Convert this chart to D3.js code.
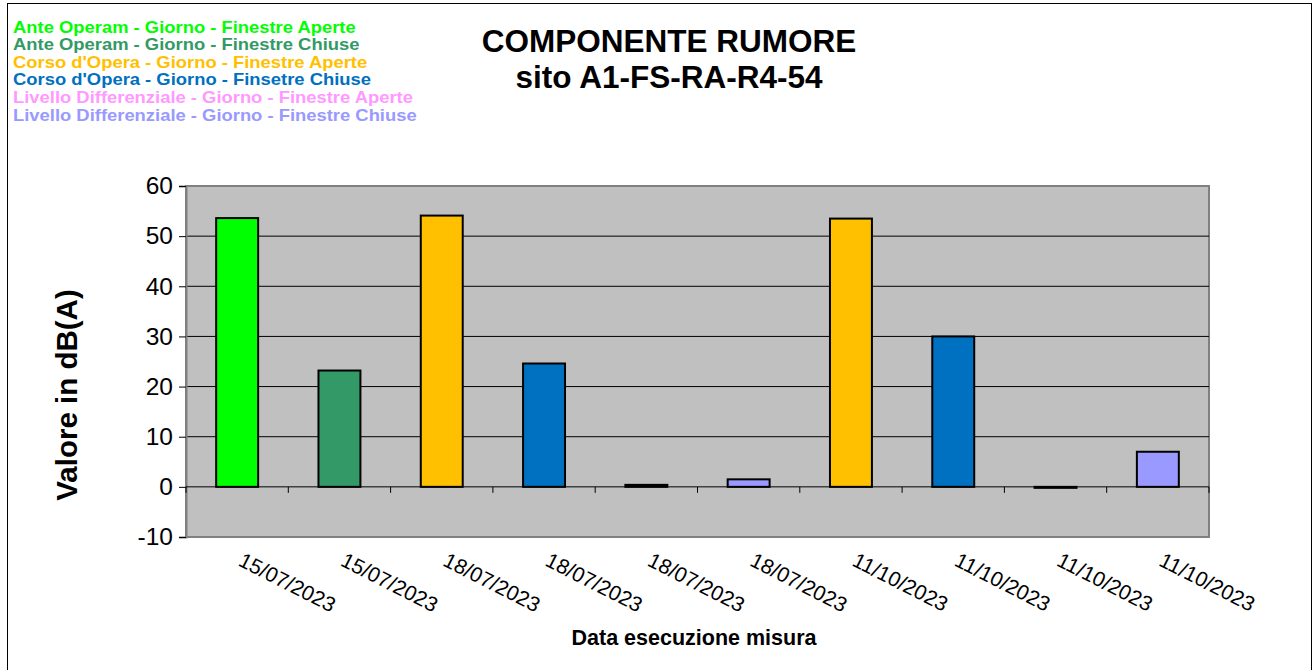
<!DOCTYPE html>
<html>
<head>
<meta charset="utf-8">
<script src="https://cdn.jsdelivr.net/npm/d3@7"></script>
<style>
  body { margin: 0; background: #fff; }
  text { font-family: Arial, "Liberation Sans", sans-serif; }
</style>
</head>
<body>
<div class="chart"></div>
<script>
const FRAME_WIDTH = 1316;
const FRAME_HEIGHT = 670;
const PLOT = {left: 186, right: 1209, top: 186, bottom: 537};

// data
const DATES = ["15/07/2023", "15/07/2023", "18/07/2023", "18/07/2023", "18/07/2023",
               "18/07/2023", "11/10/2023", "11/10/2023", "11/10/2023", "11/10/2023"];
const VALUES = [53.6, 23.2, 54.1, 24.6, 0.4, 1.5, 53.5, 30.0, -0.2, 7.0];
const SERIES_OF_BAR = [0, 1, 2, 3, 4, 5, 2, 3, 4, 5];
const SERIES_NAMES = ["Ante Operam - Giorno - Finestre Aperte",
                      "Ante Operam - Giorno - Finestre Chiuse",
                      "Corso d'Opera  - Giorno - Finestre Aperte",
                      "Corso d'Opera - Giorno - Finsetre Chiuse",
                      "Livello Differenziale - Giorno - Finestre Aperte",
                      "Livello Differenziale - Giorno - Finestre Chiuse"];
const SERIES_COLORS = ["#00FF00", "#339966", "#FFC000", "#0070C0", "#FF99FF", "#9999FF"];
const Y_TICKS = [-10, 0, 10, 20, 30, 40, 50, 60];

const FRAME = d3.select(".chart")
                .append("svg")
                .attr("width", FRAME_WIDTH)
                .attr("height", FRAME_HEIGHT);

// outer chart border
FRAME.append("rect")
    .attr("x", 7.5).attr("y", 3.5)
    .attr("width", 1304).attr("height", 680)
    .attr("fill", "#fff").attr("stroke", "#000").attr("stroke-width", 1);

const X_SCALE = d3.scaleBand()
                  .domain(d3.range(DATES.length))
                  .range([PLOT.left, PLOT.right]);
const Y_SCALE = d3.scaleLinear()
                  .domain([-10, 60])
                  .range([PLOT.bottom, PLOT.top]);

// plot area
FRAME.append("rect")
    .attr("x", PLOT.left).attr("y", PLOT.top)
    .attr("width", PLOT.right - PLOT.left).attr("height", PLOT.bottom - PLOT.top)
    .attr("fill", "#C0C0C0")
    .attr("stroke", "#808080").attr("stroke-width", 2);

// gridlines
FRAME.selectAll(".grid")
    .data(Y_TICKS.filter(d => d > 0 && d < 60))
    .enter().append("line")
    .attr("x1", PLOT.left).attr("x2", PLOT.right)
    .attr("y1", d => Y_SCALE(d)).attr("y2", d => Y_SCALE(d))
    .attr("stroke", "#000").attr("stroke-width", 1);

// y axis
const yAxis = FRAME.append("g")
    .attr("transform", "translate(" + PLOT.left + ",0)")
    .call(d3.axisLeft(Y_SCALE).tickValues(Y_TICKS).tickFormat(d => String(d))
            .tickSize(7).tickPadding(6));
yAxis.select(".domain").attr("stroke", "#808080").attr("stroke-width", 2);
yAxis.selectAll(".tick line").attr("stroke", "#000");
yAxis.selectAll(".tick text")
    .attr("font-size", "24.5px").attr("fill", "#000")
    .attr("font-family", "Arial, 'Liberation Sans', sans-serif");

// x axis along zero
const boundaries = d3.range(DATES.length + 1).map(i => PLOT.left + i * X_SCALE.step());
FRAME.append("line")
    .attr("x1", PLOT.left).attr("x2", PLOT.right)
    .attr("y1", Y_SCALE(0)).attr("y2", Y_SCALE(0))
    .attr("stroke", "#000").attr("stroke-width", 1);
FRAME.selectAll(".xtick")
    .data(boundaries)
    .enter().append("line")
    .attr("x1", d => d).attr("x2", d => d)
    .attr("y1", Y_SCALE(0)).attr("y2", Y_SCALE(0) + 6)
    .attr("stroke", "#000").attr("stroke-width", 1);

// bars
const BAR_W = X_SCALE.bandwidth() * 0.41;
FRAME.selectAll(".bar")
    .data(VALUES)
    .enter().append("rect")
    .attr("x", (d, i) => X_SCALE(i) + (X_SCALE.bandwidth() - BAR_W) / 2)
    .attr("y", d => Y_SCALE(Math.max(0, d)))
    .attr("width", BAR_W)
    .attr("height", d => Math.abs(Y_SCALE(d) - Y_SCALE(0)))
    .attr("fill", (d, i) => SERIES_COLORS[SERIES_OF_BAR[i]])
    .attr("stroke", "#000").attr("stroke-width", 2);

// x labels, rotated
FRAME.selectAll(".xlabel")
    .data(DATES)
    .enter().append("text")
    .attr("transform", (d, i) => "translate(" + (X_SCALE(i) + X_SCALE.bandwidth() / 2) + "," + 565 + ") rotate(27)")
    .attr("font-size", "21px")
    .attr("fill", "#000")
    .text(d => d);

// titles
FRAME.append("text")
    .attr("x", 669).attr("y", 52)
    .attr("text-anchor", "middle")
    .attr("font-size", "31.5px").attr("font-weight", "bold")
    .text("COMPONENTE RUMORE");
FRAME.append("text")
    .attr("x", 669).attr("y", 88)
    .attr("text-anchor", "middle")
    .attr("font-size", "31.5px").attr("font-weight", "bold")
    .text("sito A1-FS-RA-R4-54");

FRAME.append("text")
    .attr("transform", "translate(77,395) rotate(-90)")
    .attr("text-anchor", "middle")
    .attr("font-size", "29.5px").attr("font-weight", "bold")
    .text("Valore in dB(A)");

FRAME.append("text")
    .attr("x", 694).attr("y", 645)
    .attr("text-anchor", "middle")
    .attr("font-size", "21.5px").attr("font-weight", "bold")
    .text("Data esecuzione misura");

// legend as coloured text lines (font is a bit wide in the original)
FRAME.selectAll(".legend")
    .data(SERIES_NAMES)
    .enter().append("text")
    .attr("transform", (d, i) => "translate(13," + (32.5 + i * 17.6) + ") scale(1.15,1)")
    .attr("font-size", "16px").attr("font-weight", "bold")
    .attr("fill", (d, i) => SERIES_COLORS[i])
    .text(d => d);
</script>
</body>
</html>
